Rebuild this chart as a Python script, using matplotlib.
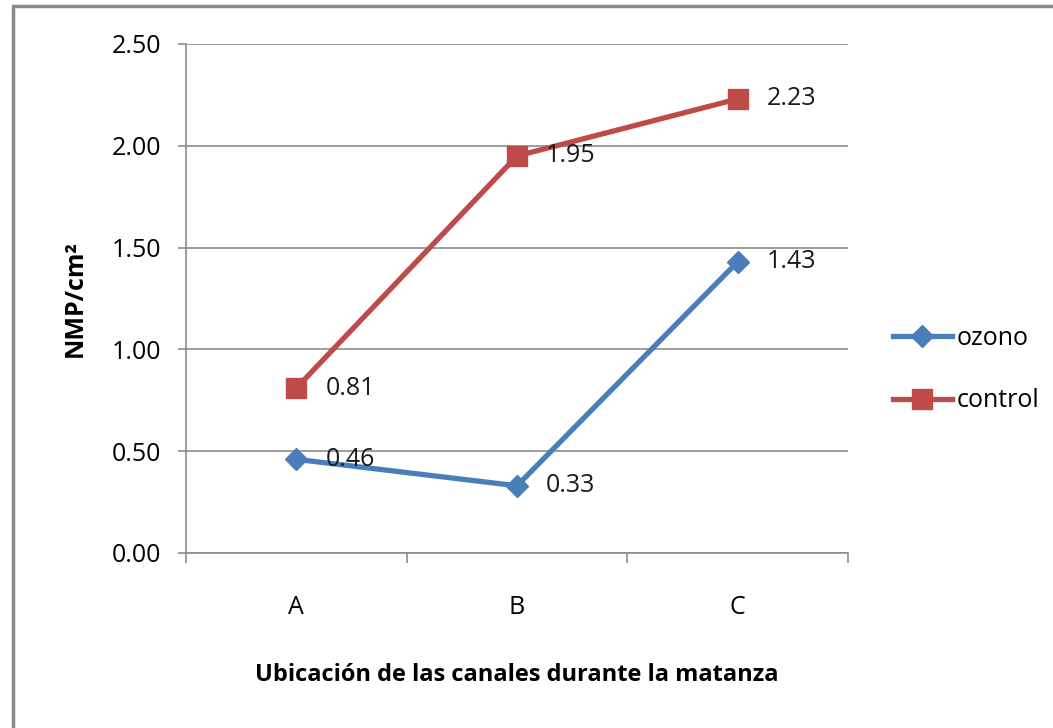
import matplotlib.pyplot as plt
from matplotlib.patches import Rectangle

# Datos
categorias = ["A", "B", "C"]
ozono = [0.46, 0.33, 1.43]
control = [0.81, 1.95, 2.23]
y_ticks = [0.0, 0.5, 1.0, 1.5, 2.0, 2.5]

azul = "#4A7EBB"
rojo = "#BE4B48"
gris = "#8C8C8C"

plt.rcParams["font.family"] = ["Open Sans", "DejaVu Sans"]

fig = plt.figure(figsize=(10.53, 7.28), dpi=100)
ax = fig.add_axes([0.1766, 0.2404, 0.6287, 0.6992])

x = range(len(categorias))
ax.plot(x, ozono, color=azul, lw=3.8, marker="D", ms=11, label="ozono")
ax.plot(x, control, color=rojo, lw=3.8, marker="s", ms=15, label="control")

for serie in (ozono, control):
    for i, v in enumerate(serie):
        ax.annotate(f"{v:.2f}", (i, v), xytext=(21, 0), textcoords="offset points",
                    ha="left", va="center", fontsize=18, color="#1a1a1a")

ax.set_xlim(-0.5, 2.5)
ax.set_ylim(0, 2.5)
ax.set_yticks(y_ticks)
ax.set_yticklabels([f"{t:.2f}" for t in y_ticks], fontsize=18)
ax.set_xticks(list(x))
ax.set_xticklabels(categorias, fontsize=18)
ax.set_xticks([-0.5, 0.5, 1.5, 2.5], minor=True)
ax.tick_params(axis="x", which="major", length=0, pad=30)
ax.tick_params(axis="x", which="minor", length=7, color=gris, width=1.2)
ax.tick_params(axis="y", length=6, color=gris, width=1.2, pad=12)

ax.grid(axis="y", color=gris, lw=1.2)
ax.set_axisbelow(True)
for s in ["top", "right"]:
    ax.spines[s].set_visible(False)
for s in ["left", "bottom"]:
    ax.spines[s].set_color(gris)
    ax.spines[s].set_linewidth(1.2)

ax.set_xlabel("Ubicación de las canales durante la matanza", fontsize=17,
              fontweight="bold", labelpad=31)
ax.set_ylabel("NMP/cm²", fontsize=18, fontweight="bold", labelpad=17)

ax.legend(loc="center left", bbox_to_anchor=(1.068, 0.36), frameon=False,
          fontsize=18, handlelength=2.35, handletextpad=0.2, labelspacing=1.5,
          borderpad=0, borderaxespad=0)

# Borde del gráfico
fig.patches.append(Rectangle((13 / 1053, -0.1), 1.2, 1.1 - 6 / 728,
                             transform=fig.transFigure, fill=False,
                             edgecolor="#8a8a8a", lw=2.5))

fig.savefig("out.png", dpi=100)
